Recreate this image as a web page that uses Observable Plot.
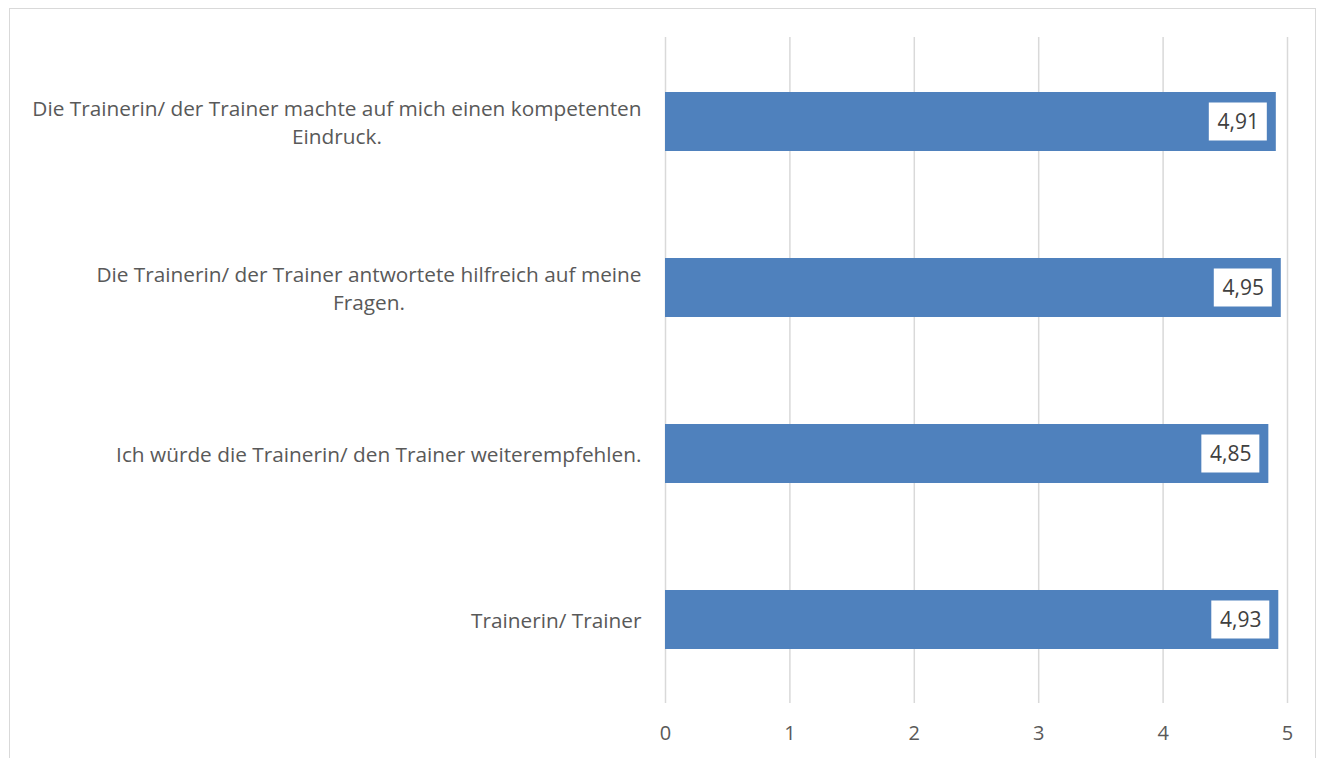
<!DOCTYPE html>
<html>
<head>
<meta charset="utf-8">
<script src="https://cdn.jsdelivr.net/npm/d3@7"></script>
<script src="https://cdn.jsdelivr.net/npm/@observablehq/plot@0.6"></script>
<style>
  html, body { margin: 0; padding: 0; background: #fff; width: 1324px; height: 758px; overflow: hidden; }
  #wrap { position: relative; width: 1324px; height: 758px; }
  #frame { position: absolute; left: 9px; top: 8px; width: 1307px; height: 770px; border: 1px solid #d9d9d9; box-sizing: border-box; pointer-events: none; }
  #chart { position: absolute; left: 0; top: 0; }
</style>
</head>
<body>
<div id="wrap"><div id="chart"></div><div id="frame"></div></div>
<script>
const categories = [
  "Die Trainerin/ der Trainer machte auf mich einen kompetenten Eindruck.",
  "Die Trainerin/ der Trainer antwortete hilfreich auf meine Fragen.",
  "Ich würde die Trainerin/ den Trainer weiterempfehlen.",
  "Trainerin/ Trainer"
];
const displayLabels = [
  "Die Trainerin/ der Trainer machte auf mich einen kompetenten\nEindruck.",
  "Die Trainerin/ der Trainer antwortete hilfreich auf meine\nFragen.",
  "Ich würde die Trainerin/ den Trainer weiterempfehlen.",
  "Trainerin/ Trainer"
];
const values = [4.91, 4.95, 4.85, 4.93];
const xTicks = [0, 1, 2, 3, 4, 5];

const data = categories.map((c, i) => ({cat: c, v: values[i]}));
const fmt = v => v.toFixed(2).replace(".", ",");
const FONT = "'Open Sans', 'Noto Sans', sans-serif";
const LABEL_SIZE = 20.8;

// measure widest line of each category label so wrapped lines are centred in their box
const ctx = document.createElement("canvas").getContext("2d");
ctx.font = `${LABEL_SIZE}px 'Open Sans'`;
const boxWidth = displayLabels.map(s => d3.max(s.split("\n"), l => ctx.measureText(l).width));

const labelMarks = categories.map((c, i) =>
  Plot.text([c], {
    y: d => d,
    frameAnchor: "left",
    text: () => displayLabels[i],
    textAnchor: "middle",
    dx: -24 - boxWidth[i] / 2,
    dy: -1,
    lineHeight: 1.35,
    fontSize: LABEL_SIZE,
    fill: "#595959"
  })
);

const chart = Plot.plot({
  width: 1324,
  height: 758,
  marginLeft: 665,
  marginRight: 37,
  marginTop: 37,
  marginBottom: 55,
  style: {fontFamily: FONT, fontSize: "18px", color: "#595959", background: "transparent", overflow: "visible"},
  x: {domain: [0, 5], ticks: xTicks, label: null},
  y: {domain: categories, label: null, axis: null, paddingInner: 0.647, paddingOuter: 0.323},
  marks: [
    Plot.gridX(xTicks, {stroke: "#d9d9d9", strokeOpacity: 1, strokeWidth: 1.5}),
    Plot.barX(data, {x: "v", y: "cat", fill: "#4f81bd"}),
    Plot.rect(data, {x1: "v", x2: "v", y: "cat", fill: "white", insetLeft: -67, insetRight: 9, insetTop: 10.5, insetBottom: 10.5}),
    Plot.text(data, {x: "v", y: "cat", text: d => fmt(d.v), dx: -38, fill: "#404040", fontSize: 21}),
    Plot.axisX(xTicks, {tickSize: 0, tickPadding: 22, tickFormat: d3.format("d"), fill: "#595959", fontSize: 20}),
    ...labelMarks
  ]
});
document.getElementById("chart").appendChild(chart);
</script>
</body>
</html>
